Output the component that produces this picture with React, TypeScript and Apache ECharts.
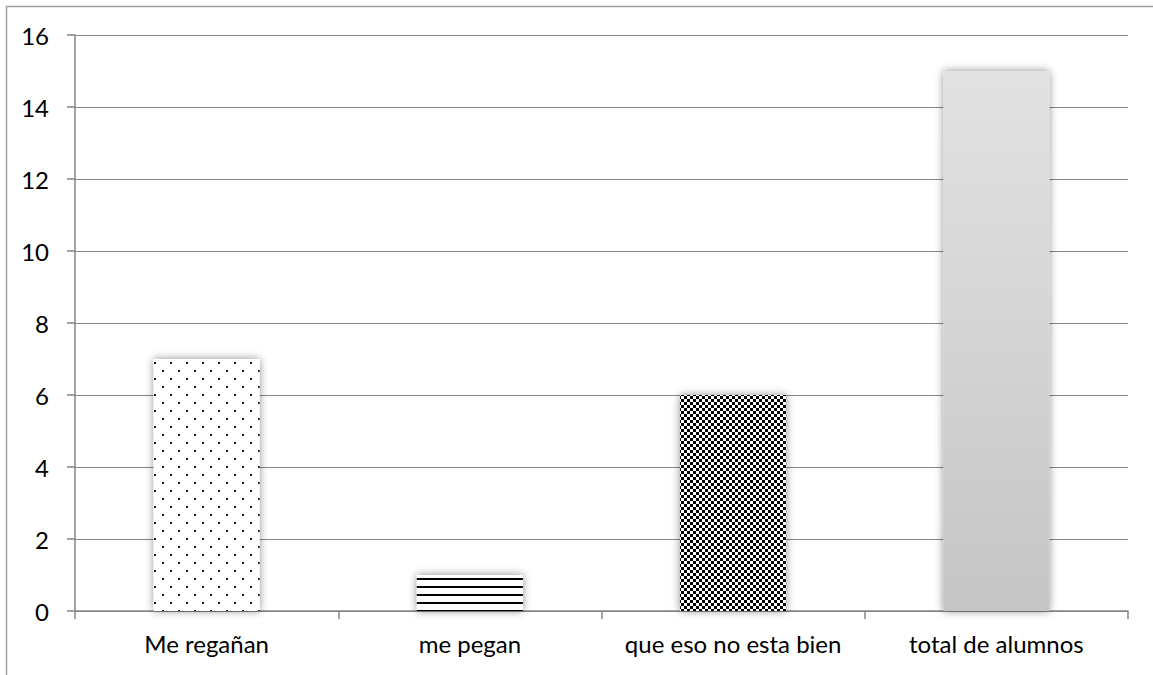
import React, { useEffect, useRef } from "react";
import * as echarts from "echarts";

const categories = ["Me regañan", "me pegan", "que eso no esta bien", "total de alumnos"];
const values = [7, 1, 6, 15];
const yMin = 0;
const yMax = 16;
const yInterval = 2;

function makeTile(w: number, h: number, draw: (ctx: CanvasRenderingContext2D) => void) {
  const c = document.createElement("canvas");
  c.width = w;
  c.height = h;
  const ctx = c.getContext("2d")!;
  draw(ctx);
  return { image: c, repeat: "repeat", imageWidth: w, imageHeight: h } as any;
}

export default function App() {
  const ref = useRef<HTMLDivElement>(null);
  useEffect(() => {
    if (!ref.current) return;
    const chart = echarts.init(ref.current, undefined, { renderer: "svg" });

    const dots = makeTile(16, 16, (ctx) => {
      ctx.fillStyle = "#fff";
      ctx.fillRect(0, 0, 16, 16);
      ctx.fillStyle = "#1a1a1a";
      ctx.fillRect(2, 2, 2, 2);
      ctx.fillRect(10, 10, 2, 2);
    });
    const stripes = makeTile(8, 8, (ctx) => {
      ctx.fillStyle = "#fff";
      ctx.fillRect(0, 0, 8, 8);
      ctx.fillStyle = "#000";
      ctx.fillRect(0, 2, 8, 2);
    });
    const checker = makeTile(6, 6, (ctx) => {
      ctx.fillStyle = "#fff";
      ctx.fillRect(0, 0, 6, 6);
      ctx.fillStyle = "#000";
      ctx.fillRect(0, 0, 3, 3);
      ctx.fillRect(3, 3, 3, 3);
    });
    const gray = new echarts.graphic.LinearGradient(0, 0, 0, 1, [
      { offset: 0, color: "#e2e2e2" },
      { offset: 1, color: "#c5c5c5" },
    ]);
    const fills = [dots, stripes, checker, gray];

    const font = "Lato, 'Open Sans', sans-serif";
    chart.setOption({
      animation: false,
      backgroundColor: "#fff",
      graphic: [
        {
          type: "rect",
          shape: { x: 6.5, y: 6.5, width: 1300, height: 800 },
          style: { fill: "none", stroke: "#a0a0a0", lineWidth: 1.5 },
          silent: true,
          z: -10,
        },
      ],
      grid: { left: 75, right: 25, top: 35, bottom: 64, containLabel: false },
      xAxis: {
        type: "category",
        data: categories,
        axisLine: { show: true, lineStyle: { color: "#868686", width: 1.5 } },
        axisTick: { show: true, length: 8, alignWithLabel: false, lineStyle: { color: "#868686", width: 1.5 } },
        axisLabel: { color: "#000", fontSize: 24, fontFamily: font, margin: 20, interval: 0 },
        splitLine: { show: false },
      },
      yAxis: {
        type: "value",
        min: yMin,
        max: yMax,
        interval: yInterval,
        axisLine: { show: true, lineStyle: { color: "#868686", width: 1.5 } },
        axisTick: { show: true, length: 8, lineStyle: { color: "#868686", width: 1.5 } },
        axisLabel: { color: "#000", fontSize: 24, fontFamily: font, margin: 26 },
        splitLine: { show: true, lineStyle: { color: "#868686", width: 1.2 } },
      },
      series: [
        {
          type: "bar",
          barWidth: 106,
          data: values.map((v, i) => ({
            value: v,
            itemStyle: {
              color: fills[i],
              shadowBlur: 9,
              shadowColor: "rgba(0,0,0,0.45)",
              shadowOffsetX: 0,
              shadowOffsetY: 0,
            },
          })),
        },
      ],
    });
    return () => chart.dispose();
  }, []);
  return (
    <div
      ref={ref}
      style={{ position: "absolute", left: 0, top: 0, width: 1153, height: 675, background: "#fff" }}
    />
  );
}
